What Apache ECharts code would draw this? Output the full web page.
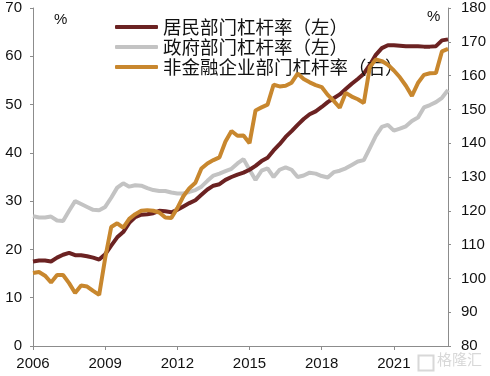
<!DOCTYPE html>
<html>
<head>
<meta charset="utf-8">
<script src="https://cdn.jsdelivr.net/npm/echarts@6/dist/echarts.min.js"></script>
<style>
    html, body {margin: 0; padding: 0; background: #fff;}
    #main {width: 490px; height: 376px;}
</style>
</head>
<body>
<div id="main"></div>
<script>
// quarterly, 2006Q1 - 2023Q2
var quarters = [];
for (var y = 2006; y <= 2023; y++) {
    for (var q = 1; q <= 4; q++) {
        if (y == 2023 && q > 2) break;
        quarters.push(y + 'Q' + q);
    }
}

var household = [17.5, 17.7, 17.7, 17.5, 18.3, 18.9, 19.3, 18.8, 18.8, 18.6, 18.3, 17.9,
    19.0, 20.8, 22.5, 23.6, 25.5, 26.7, 27.2, 27.3, 27.5, 28.0, 27.9, 27.7,
    28.2, 28.9, 29.6, 30.2, 31.3, 32.4, 33.2, 33.5, 34.4, 35.0, 35.5, 35.9,
    36.5, 37.3, 38.3, 39.0, 40.5, 41.8, 43.3, 44.5, 45.8, 47.0, 48.0, 48.6,
    49.5, 50.5, 51.3, 52.1, 53.2, 54.3, 55.3, 56.4, 58.2, 60.3, 61.7, 62.3,
    62.3, 62.2, 62.1, 62.1, 62.1, 62.0, 62.0, 62.1, 63.3, 63.5];

var government = [26.9, 26.6, 26.6, 26.8, 26.0, 25.9, 28.0, 30.0, 29.4, 28.8, 28.2, 28.1,
    28.8, 30.7, 32.8, 33.7, 33.0, 33.3, 33.2, 32.7, 32.3, 32.1, 32.1, 31.8,
    31.6, 31.6, 31.9, 32.3, 33.0, 34.2, 35.3, 35.7, 36.2, 36.7, 37.8, 38.7,
    36.5, 34.4, 36.3, 36.8, 35.0, 36.5, 37.0, 36.5, 35.0, 35.3, 35.9, 35.7,
    35.2, 34.9, 36.0, 36.3, 36.8, 37.5, 38.2, 38.5, 41.0, 43.5, 45.4, 45.8,
    44.6, 45.0, 45.5, 46.6, 47.3, 49.4, 49.9, 50.5, 51.4, 53.0];

var corporate = [101.6, 101.9, 100.8, 98.8, 101.0, 101.0, 98.6, 95.7, 97.9, 97.6, 96.3, 95.1,
    106.0, 115.2, 116.3, 115.0, 117.6, 119.0, 120.0, 120.2, 120.0, 119.5, 118.0, 117.9,
    120.8, 124.3, 126.7, 128.3, 132.5, 134.0, 135.0, 135.8, 140.5, 143.6, 142.2, 142.3,
    140.0, 149.7, 150.6, 151.4, 157.3, 156.8, 157.0, 157.9, 160.6, 159.0, 158.0, 157.2,
    156.6, 154.3, 152.5, 150.5, 154.9, 153.8, 153.0, 151.9, 162.5, 164.8, 164.3, 163.2,
    161.5, 159.5, 157.0, 154.0, 157.8, 160.2, 160.7, 160.8, 167.2, 167.9];

var leftTicks = {min: 0, max: 70, interval: 10};
var rightTicks = {min: 80, max: 180, interval: 10};

var names = ['居民部门杠杆率（左）', '政府部门杠杆率（左）', '非金融企业部门杠杆率（右）'];
var colors = ['#6b2222', '#c3c3c3', '#c8872e'];

var axisColor = '#8c8c8c';
var labelFont = {color: '#111', fontSize: 15, fontFamily: 'Liberation Sans'};

var chart = echarts.init(document.getElementById('main'));
option = {
    animation: false,
    grid: {left: 33, right: 42, top: 8, bottom: 30},
    legend: {
        orient: 'vertical',
        left: 110,
        top: 12,
        icon: 'roundRect',
        itemWidth: 43,
        itemHeight: 4,
        itemGap: 0,
        textStyle: {
            color: '#111',
            fontSize: 18.5,
            lineHeight: 20,
            fontFamily: 'Noto Sans CJK SC'
        },
        data: names
    },
    xAxis: {
        type: 'category',
        boundaryGap: false,
        data: quarters,
        axisLine: {lineStyle: {color: axisColor, width: 1}},
        axisTick: {interval: 11, length: 4, lineStyle: {color: axisColor}},
        axisLabel: {
            interval: 11,
            margin: 10,
            color: labelFont.color,
            fontSize: labelFont.fontSize,
            fontFamily: labelFont.fontFamily,
            formatter: function (v) { return v.substring(0, 4); }
        },
        splitLine: {show: false}
    },
    yAxis: [
        {
            type: 'value',
            min: leftTicks.min,
            max: leftTicks.max,
            interval: leftTicks.interval,
            axisLine: {show: true, lineStyle: {color: axisColor}},
            axisTick: {show: true, length: 3, lineStyle: {color: axisColor}},
            axisLabel: {margin: 11, color: labelFont.color, fontSize: labelFont.fontSize, fontFamily: labelFont.fontFamily},
            splitLine: {show: false}
        },
        {
            type: 'value',
            min: rightTicks.min,
            max: rightTicks.max,
            interval: rightTicks.interval,
            axisLine: {show: true, lineStyle: {color: axisColor}},
            axisTick: {show: true, length: 3, lineStyle: {color: axisColor}},
            axisLabel: {margin: 13, color: labelFont.color, fontSize: labelFont.fontSize, fontFamily: labelFont.fontFamily},
            splitLine: {show: false}
        }
    ],
    graphic: [
        {type: 'text', left: 54, top: 12, style: {text: '%', fontSize: 15, fontFamily: 'Liberation Sans', fill: '#111'}},
        {type: 'text', left: 427, top: 9, style: {text: '%', fontSize: 15, fontFamily: 'Liberation Sans', fill: '#111'}},
        {type: 'rect', left: 416, top: 353, shape: {width: 15, height: 15}, style: {fill: 'none', stroke: '#d8d8d8', lineWidth: 2}},
        {type: 'text', left: 437, top: 352, style: {text: '格隆汇', fontSize: 15, fontFamily: 'Noto Sans CJK SC', fill: '#d8d8d8'}}
    ],
    series: []
};
option.series.push({
    name: names[1],
    type: 'line',
    yAxisIndex: 0,
    data: government,
    symbol: 'none',
    z: 2,
    lineStyle: {color: colors[1], width: 4},
    itemStyle: {color: colors[1]}
});
option.series.push({
    name: names[0],
    type: 'line',
    yAxisIndex: 0,
    data: household,
    symbol: 'none',
    z: 3,
    lineStyle: {color: colors[0], width: 4},
    itemStyle: {color: colors[0]}
});
option.series.push({
    name: names[2],
    type: 'line',
    yAxisIndex: 1,
    data: corporate,
    symbol: 'none',
    z: 4,
    lineStyle: {color: colors[2], width: 4},
    itemStyle: {color: colors[2]}
});
chart.setOption(option);
</script>
</body>
</html>
